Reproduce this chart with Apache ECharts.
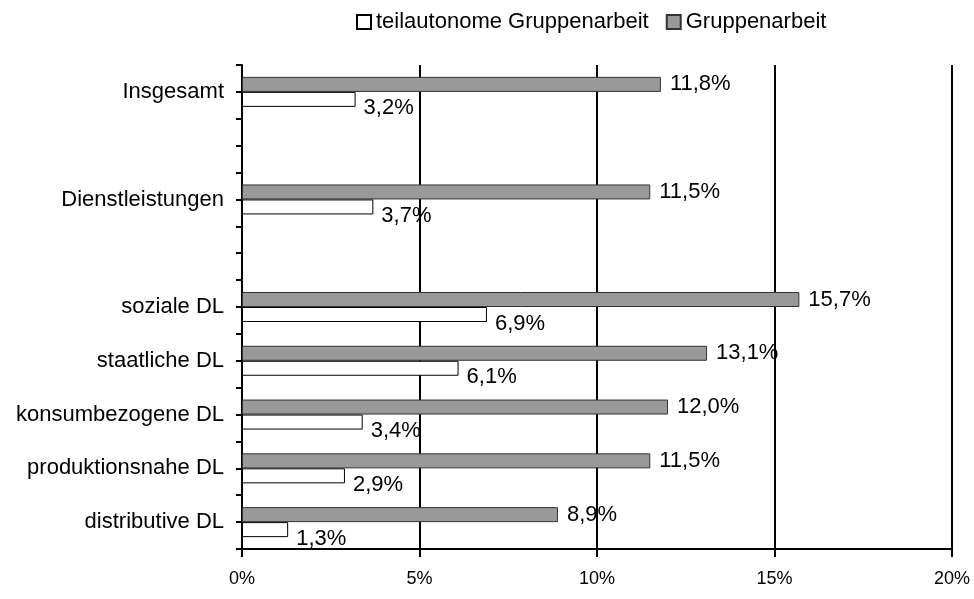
<!DOCTYPE html>
<html><head><meta charset="utf-8">
<script src="https://cdn.jsdelivr.net/npm/echarts@6/dist/echarts.min.js"></script>
<style>html,body{margin:0;padding:0;background:#fff}#c{width:974px;height:599px}</style>
</head><body><div id="c"></div>
<script>
const categories = ['Insgesamt', '', 'Dienstleistungen', ' ', 'soziale DL', 'staatliche DL', 'konsumbezogene DL', 'produktionsnahe DL', 'distributive DL'];
const teilautonom = [3.2, null, 3.7, null, 6.9, 6.1, 3.4, 2.9, 1.3];
const gruppenarbeit = [11.8, null, 11.5, null, 15.7, 13.1, 12.0, 11.5, 8.9];
const xTicks = [0, 5, 10, 15, 20];
const seriesNames = ['teilautonome Gruppenarbeit', 'Gruppenarbeit'];

const font = 'Liberation Sans, Arial, sans-serif';
const fmt = v => v.toFixed(1).replace('.', ',') + '%';
const halfSlots = [];
for (let i = 0; i < categories.length * 2; i++) halfSlots.push('s' + i);

const chart = echarts.init(document.getElementById('c'), null, {renderer: 'canvas'});
chart.setOption({
  animation: false,
  backgroundColor: '#fff',
  legend: {
    top: 6, left: 351,
    icon: 'rect',
    itemWidth: 14, itemHeight: 14, itemGap: 17,
    textStyle: {fontFamily: font, fontSize: 22, color: '#000'},
    data: seriesNames
  },
  grid: {left: 242, right: 22, top: 65, bottom: 50},
  xAxis: {
    type: 'value', min: xTicks[0], max: xTicks[xTicks.length - 1], interval: 5,
    axisLine: {show: true, lineStyle: {color: '#000', width: 2}},
    axisTick: {show: true, length: 8, lineStyle: {color: '#000', width: 2}},
    axisLabel: {fontFamily: font, fontSize: 18, color: '#000', margin: 21, formatter: v => v + '%'},
    splitLine: {show: true, lineStyle: {color: '#000', width: 2}}
  },
  yAxis: [{
    type: 'category', inverse: true, data: categories,
    axisLine: {show: true, lineStyle: {color: '#000', width: 2}},
    axisTick: {show: false},
    axisLabel: {fontFamily: font, fontSize: 22, color: '#000', margin: 18}
  }, {
    type: 'category', inverse: true, position: 'left', data: halfSlots,
    axisLine: {show: false},
    axisTick: {show: true, length: 6, lineStyle: {color: '#000', width: 2}},
    axisLabel: {show: false}
  }],
  series: [{
    name: seriesNames[1], type: 'bar', yAxisIndex: 0, data: gruppenarbeit,
    barWidth: 15, barGap: '0%',
    itemStyle: {color: '#999999', borderColor: '#333', borderWidth: 1},
    label: {show: true, position: 'right', distance: 9, fontFamily: font, fontSize: 22, color: '#000',
      formatter: p => p.value == null ? '' : fmt(p.value)}
  }, {
    name: seriesNames[0], type: 'bar', yAxisIndex: 0, data: teilautonom,
    barWidth: 15, barGap: '0%',
    itemStyle: {color: '#fff', borderColor: '#000', borderWidth: 1},
    label: {show: true, position: 'right', distance: 8, offset: [0, 9], fontFamily: font, fontSize: 22, color: '#000',
      formatter: p => p.value == null ? '' : fmt(p.value)}
  }]
});
</script></body></html>
